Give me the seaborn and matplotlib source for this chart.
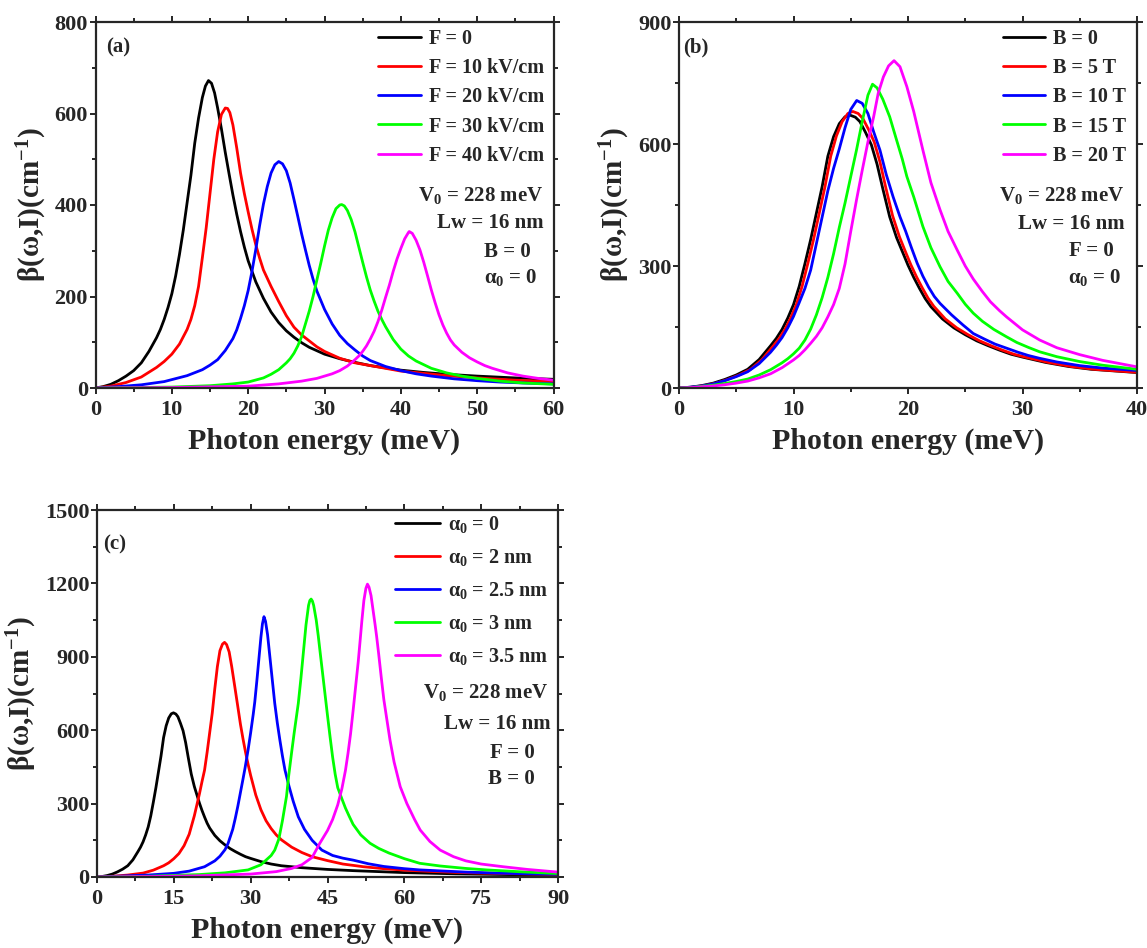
import numpy as np
import pandas as pd
import matplotlib
matplotlib.use("Agg")
import matplotlib.pyplot as plt
import seaborn as sns
from matplotlib.ticker import MultipleLocator

# ---------------- data ----------------
# Panel (a): electric field F
a_labels = ["F = 0", "F = 10 kV/cm", "F = 20 kV/cm", "F = 30 kV/cm", "F = 40 kV/cm"]
a_f0_x = [0, 1, 2, 3, 4, 5, 6, 7, 8, 8.5, 9, 9.5, 10, 10.5, 11, 11.5, 12, 12.5, 13, 13.5, 14, 14.4, 14.8, 15.2, 15.6, 16, 16.5, 17, 17.5, 18, 18.5, 19, 19.5, 20, 21, 22, 23, 24, 25, 26, 27, 28, 30, 32, 34, 36, 38, 40, 43, 46, 50, 55, 60]
a_f0_y = [0, 3, 8, 16, 26, 38, 55, 80, 110, 128, 150, 176, 206, 245, 292, 345, 405, 465, 535, 590, 635, 660, 672, 666, 645, 612, 566, 515, 468, 422, 380, 342, 308, 278, 232, 196, 166, 143, 125, 111, 99, 89, 74, 64, 56, 49, 44, 39, 34, 30, 26, 22, 19]
a_f10_x = [0, 2, 4, 6, 8, 9, 10, 11, 12, 12.5, 13, 13.5, 14, 14.5, 15, 15.5, 16, 16.5, 17, 17.3, 17.6, 18, 18.5, 19, 19.5, 20, 20.5, 21, 21.5, 22, 23, 24, 25, 26, 27, 28, 29, 30, 32, 34, 36, 38, 40, 43, 46, 50, 55, 60]
a_f10_y = [0, 4, 12, 24, 45, 58, 74, 96, 128, 150, 180, 222, 285, 350, 425, 500, 560, 598, 612, 611, 602, 575, 525, 470, 425, 385, 347, 313, 284, 258, 222, 189, 158, 133, 116, 103, 90, 80, 65, 55, 49, 43, 37, 32, 27, 22, 17, 14]
a_f20_x = [0, 3, 6, 9, 12, 14, 15, 16, 17, 18, 18.5, 19, 19.5, 20, 20.5, 21, 21.5, 22, 22.5, 23, 23.5, 24, 24.5, 25, 25.5, 26, 26.5, 27, 27.5, 28, 28.5, 29, 29.5, 30, 31, 32, 33, 34, 35, 36, 38, 40, 42, 44, 47, 50, 53, 56, 60]
a_f20_y = [0, 3, 7, 14, 27, 40, 50, 62, 82, 108, 127, 152, 180, 213, 255, 303, 355, 402, 440, 470, 488, 495, 490, 475, 448, 412, 375, 337, 302, 268, 238, 212, 192, 172, 140, 115, 97, 83, 70, 60, 47, 38, 31, 26, 20, 16, 13, 11, 9]
a_f30_x = [0, 5, 10, 15, 18, 20, 22, 23, 24, 25, 25.5, 26, 26.5, 27, 27.5, 28, 28.5, 29, 29.5, 30, 30.5, 31, 31.5, 32, 32.25, 32.6, 33, 33.5, 34, 34.5, 35, 35.5, 36, 36.5, 37, 37.5, 38, 39, 40, 41, 42, 44, 46, 48, 50, 53, 56, 60]
a_f30_y = [0, 1, 2, 5, 9, 13, 22, 30, 40, 55, 64, 76, 92, 112, 140, 168, 200, 236, 272, 310, 345, 372, 392, 400, 401, 398, 388, 368, 341, 308, 275, 243, 214, 190, 168, 150, 134, 106, 85, 70, 59, 43, 33, 26, 21, 15, 11, 8]
a_f40_x = [0, 10, 20, 24, 27, 29, 31, 32, 33, 34, 34.5, 35, 35.5, 36, 36.5, 37, 37.5, 38, 38.5, 39, 39.5, 40, 40.5, 41, 41.1, 41.5, 42, 42.5, 43, 43.5, 44, 44.5, 45, 45.5, 46, 46.5, 47, 48, 49, 50, 51, 52, 54, 56, 58, 60]
a_f40_y = [0, 1, 4, 9, 15, 21, 31, 38, 48, 62, 70, 80, 92, 107, 124, 145, 170, 198, 225, 255, 282, 305, 326, 340, 342, 338, 323, 302, 275, 245, 214, 186, 160, 138, 120, 105, 94, 78, 66, 57, 49, 43, 33, 26, 21, 17]

# Panel (b): magnetic field B
b_labels = ["B = 0", "B = 5 T", "B = 10 T", "B = 15 T", "B = 20 T"]
b_b0_x = [0, 1, 2, 3, 4, 5, 6, 7, 8, 8.5, 9, 9.5, 10, 10.5, 11, 11.5, 12, 12.5, 13, 13.5, 14, 14.5, 14.93, 15.4, 15.8, 16.3, 16.8, 17.3, 17.8, 18.4, 19, 19.5, 20, 20.5, 21, 21.5, 22, 23, 24, 25, 26, 27, 28, 29, 30, 32, 34, 36, 38, 40]
b_b0_y = [0, 2, 6, 12, 21, 32, 46, 70, 104, 122, 144, 172, 205, 250, 306, 365, 430, 495, 570, 618, 650, 667, 671, 666, 655, 628, 598, 550, 490, 421, 370, 336, 302, 272, 245, 220, 200, 170, 148, 131, 116, 104, 93, 83, 76, 63, 53, 46, 42, 38]
b_b5_x = [0, 1.25, 2.25, 3.25, 4.25, 5.25, 6.25, 7.25, 8.25, 8.75, 9.25, 9.75, 10.25, 10.75, 11.25, 11.75, 12.25, 12.75, 13.25, 13.75, 14.25, 14.75, 15.18, 15.65, 16.05, 16.55, 17.05, 17.55, 18.05, 18.65, 19.25, 19.75, 20.25, 20.75, 21.25, 21.75, 22.25, 23.25, 24.25, 25.25, 26.25, 27.25, 28.25, 29.25, 30.25, 32.25, 34.25, 36.25, 38.25, 40.25]
b_b5_y = [0, 2, 6, 12, 21, 32, 46, 70, 104, 122, 144, 172, 205, 250, 306, 365, 430, 495, 570, 620, 655, 675, 680, 675, 663, 636, 605, 556, 494, 424, 372, 337, 303, 273, 246, 221, 201, 170, 148, 131, 116, 104, 93, 83, 76, 63, 53, 46, 42, 38]
b_b10_x = [0, 1, 2, 3, 4, 5, 6, 7, 8, 8.5, 9, 9.5, 10, 10.5, 11, 11.5, 12, 12.5, 13, 13.5, 14, 14.5, 15, 15.52, 16, 16.5, 17, 17.55, 18.1, 18.7, 19.3, 19.8, 20.3, 20.8, 21.3, 21.8, 22.3, 22.8, 23.8, 24.8, 25.7, 26.7, 27.6, 28.6, 29.6, 30.5, 31.5, 33, 35, 37, 40]
b_b10_y = [0, 2, 5, 10, 18, 28, 40, 60, 88, 105, 124, 148, 176, 210, 245, 290, 355, 420, 485, 540, 588, 640, 685, 707, 700, 675, 630, 585, 525, 470, 421, 385, 345, 307, 275, 248, 225, 208, 180, 155, 134, 120, 108, 98, 88, 80, 73, 64, 55, 49, 43]
b_b15_x = [0, 1, 2, 3, 4, 5, 6, 7, 8, 9, 9.5, 10, 10.5, 11, 11.5, 12, 12.5, 13, 13.5, 14, 14.5, 15, 15.5, 16, 16.5, 16.9, 17.3, 17.8, 18.4, 19, 19.5, 19.9, 20.5, 21.3, 22, 22.8, 23.5, 24.3, 25, 25.7, 26.5, 27.5, 28.6, 29.5, 30.5, 31.5, 33, 35, 37, 40]
b_b15_y = [0, 1, 4, 7, 11, 16, 22, 32, 45, 62, 72, 84, 98, 118, 145, 180, 222, 272, 330, 395, 455, 520, 585, 655, 720, 747, 738, 710, 667, 610, 563, 520, 470, 397, 345, 298, 262, 233, 206, 184, 164, 144, 126, 112, 100, 89, 77, 65, 56, 46]
b_b20_x = [0, 1, 2, 3, 4, 5, 6, 7, 8, 9, 10, 10.5, 11, 11.5, 12, 12.5, 13, 13.5, 14, 14.5, 15, 15.5, 16, 16.5, 17, 17.4, 17.85, 18.3, 18.78, 19.3, 19.9, 20.5, 21.3, 22, 22.8, 23.5, 24.3, 25, 25.7, 26.5, 27.2, 28, 28.6, 30, 31.5, 33, 35, 37, 40]
b_b20_y = [0, 1, 3, 5, 8, 12, 17, 25, 35, 50, 69, 80, 94, 110, 127, 148, 175, 205, 245, 305, 385, 462, 535, 605, 667, 725, 765, 792, 805, 790, 741, 680, 585, 505, 438, 385, 339, 300, 268, 237, 212, 190, 175, 143, 118, 99, 82, 68, 52]

# Panel (c): alpha_0
c_labels = ["α$_0$ = 0", "α$_0$ = 2 nm", "α$_0$ = 2.5 nm", "α$_0$ = 3 nm", "α$_0$ = 3.5 nm"]
c_a0_x = [0, 1, 2, 3, 4, 5, 6, 7, 8, 8.5, 9, 9.5, 10, 10.5, 11, 11.5, 12, 12.5, 13, 13.5, 14, 14.5, 14.93, 15.4, 15.8, 16.3, 16.8, 17.3, 17.8, 18.4, 19, 19.5, 20, 20.5, 21, 21.5, 22, 23, 24, 25, 26, 27, 28, 29, 30, 32, 34, 36, 38, 40, 45, 50, 55, 60, 70, 80, 90]
c_a0_y = [0, 2, 6, 12, 21, 32, 46, 70, 104, 122, 144, 172, 205, 250, 306, 365, 430, 495, 570, 618, 650, 667, 671, 666, 655, 628, 598, 550, 490, 421, 370, 336, 302, 272, 245, 220, 200, 170, 148, 131, 116, 104, 93, 83, 76, 63, 53, 46, 42, 38, 31, 26, 22, 18, 13, 10, 8]
c_a2_x = [0, 3, 6, 9, 11, 13, 14, 15, 16, 17, 18, 19, 20, 20.5, 21, 21.5, 22, 22.5, 23, 23.5, 24, 24.5, 24.9, 25.3, 25.8, 26.3, 26.9, 27.5, 28, 28.5, 29, 29.5, 30, 31, 32, 33, 34, 35, 36, 38, 40, 42, 45, 48, 52, 56, 60, 65, 70, 75, 80, 85, 90]
c_a2_y = [0, 3, 8, 16, 28, 46, 58, 75, 96, 128, 175, 250, 340, 390, 437, 510, 590, 670, 770, 860, 925, 952, 959, 950, 920, 860, 778, 695, 625, 565, 510, 460, 415, 335, 275, 230, 198, 172, 152, 122, 100, 83, 67, 53, 42, 34, 28, 23, 19, 16, 14, 12, 10]
c_a25_x = [0, 5, 10, 15, 18, 21, 23, 24, 25, 25.6, 26.5, 27, 27.5, 28, 28.5, 28.9, 29.5, 30, 30.5, 30.8, 31.2, 31.6, 32, 32.3, 32.6, 32.9, 33.3, 33.7, 34.2, 34.7, 35.2, 35.7, 36.2, 36.7, 37.5, 38.3, 39.3, 40.5, 42, 43.9, 46, 48, 50, 53, 56, 60, 63, 67, 72, 78, 84, 90]
c_a25_y = [0, 4, 8, 15, 24, 42, 66, 85, 112, 138, 195, 240, 290, 345, 400, 445, 520, 590, 665, 715, 800, 890, 980, 1035, 1064, 1045, 990, 910, 810, 710, 630, 560, 495, 437, 370, 310, 246, 195, 150, 110, 88, 77, 69, 54, 43, 34, 29, 25, 20, 16, 13, 11]
c_a3_x = [0, 10, 20, 25, 29.5, 32, 34, 34.7, 35.5, 36.2, 37, 37.4, 38, 38.5, 39, 39.3, 39.8, 40.3, 40.8, 41.3, 41.55, 41.8, 42.05, 42.3, 42.8, 43.2, 43.5, 44, 44.5, 45, 45.5, 46, 46.5, 47, 47.8, 48.5, 49.2, 50, 51.5, 53.3, 55, 57, 60, 63, 67, 72, 76, 83, 90]
c_a3_y = [0, 3, 10, 17, 29, 50, 88, 110, 155, 230, 330, 410, 510, 590, 665, 710, 810, 920, 1030, 1110, 1130, 1136, 1128, 1110, 1050, 985, 930, 840, 750, 660, 573, 490, 420, 365, 320, 282, 250, 215, 172, 138, 117, 98, 75, 56, 45, 35, 29, 21, 14]
c_a35_x = [0, 10, 20, 30, 35, 38, 40, 42, 43.5, 45, 46, 47, 47.8, 48.5, 49, 49.5, 50, 50.5, 51, 51.3, 51.7, 52.1, 52.5, 52.8, 53.1, 53.5, 53.9, 54.3, 54.6, 55, 55.5, 56, 56.6, 57.2, 58, 59.2, 60.5, 62, 63.1, 65, 67, 69.6, 72, 75, 79.3, 84, 90]
c_a35_y = [0, 2, 5, 12, 22, 35, 50, 80, 138, 190, 235, 295, 360, 435, 505, 585, 680, 780, 880, 950, 1045, 1130, 1180, 1197, 1185, 1150, 1090, 1030, 982, 910, 815, 725, 642, 560, 470, 369, 300, 235, 192, 145, 110, 83, 66, 53, 42, 31, 20]

colors = ["#000000", "#FF0000", "#0000FF", "#00FF00", "#FF00FF"]

# ---------------- style ----------------
sns.set_style("ticks")
plt.rcParams["font.family"] = ["Liberation Serif", "DejaVu Serif"]
plt.rcParams["font.weight"] = "bold"
plt.rcParams["axes.labelweight"] = "bold"
plt.rcParams["mathtext.fontset"] = "custom"
plt.rcParams["mathtext.rm"] = "Liberation Serif:bold"
plt.rcParams["mathtext.it"] = "Liberation Serif:bold"
plt.rcParams["mathtext.bf"] = "Liberation Serif:bold"
plt.rcParams["mathtext.default"] = "rm"

fig = plt.figure(figsize=(11.47, 9.48), dpi=100)
W, H = 1147.0, 948.0
ax_a = fig.add_axes([95.5 / W, 1 - 388 / H, 458 / W, 366 / H])
ax_b = fig.add_axes([679 / W, 1 - 388 / H, 458 / W, 366 / H])
ax_c = fig.add_axes([97 / W, 1 - 877 / H, 461 / W, 367 / H])


def to_long(xs, ys, labels):
    frames = []
    for x, y, lab in zip(xs, ys, labels):
        frames.append(pd.DataFrame({"E": x, "beta": y, "series": lab}))
    return pd.concat(frames, ignore_index=True)


def draw(ax, df, labels, xlim, xmaj, ylim, ymaj, tag, notes, leg_anchor,
         leg_spacing, hlen):
    sns.lineplot(data=df, x="E", y="beta", hue="series", hue_order=labels,
                 palette=colors, estimator=None, sort=False, lw=2.0,
                 legend=False, ax=ax)
    for ln in ax.get_lines():
        ln.set_solid_joinstyle("round")
    ax.set_xlim(*xlim)
    ax.set_ylim(*ylim)
    ax.xaxis.set_major_locator(MultipleLocator(xmaj))
    ax.xaxis.set_minor_locator(MultipleLocator(xmaj / 2))
    ax.yaxis.set_major_locator(MultipleLocator(ymaj))
    ax.yaxis.set_minor_locator(MultipleLocator(ymaj / 2))
    for s in ax.spines.values():
        s.set_linewidth(1.6)
        s.set_visible(True)
    ax.tick_params(which="both", direction="out", top=True, right=True,
                   labeltop=False, labelright=False, width=1.4)
    ax.tick_params(which="major", length=4.5)
    ax.tick_params(which="minor", length=3)
    ax.tick_params(axis="y", which="major", pad=1, labelsize=16)
    ax.tick_params(axis="x", which="major", pad=4, labelsize=16)
    for lab in ax.get_xticklabels() + ax.get_yticklabels():
        lab.set_fontweight("bold")
    ax.set_xlabel("Photon energy (meV)", fontsize=21.5, fontweight="bold", labelpad=6)
    ax.set_ylabel("β(ω,I)(cm$^{-1}$)", fontsize=21, fontweight="bold", labelpad=4)
    ax.text(tag[1], tag[2], tag[0], transform=ax.transAxes, fontsize=15,
            fontweight="bold", ha="left", va="center")
    for txt, x, y in notes:
        ax.text(x, y, txt, transform=ax.transAxes, fontsize=15,
                fontweight="bold", ha="right", va="center")
    handles = ax.get_lines()[:len(labels)]
    ax.legend(handles, labels, loc="upper right", bbox_to_anchor=leg_anchor,
              frameon=False, handlelength=hlen, handletextpad=0.4,
              labelspacing=leg_spacing, borderaxespad=0, borderpad=0,
              prop={"weight": "bold", "size": 14.5})


df_a = to_long([a_f0_x, a_f10_x, a_f20_x, a_f30_x, a_f40_x],
               [a_f0_y, a_f10_y, a_f20_y, a_f30_y, a_f40_y], a_labels)
df_b = to_long([b_b0_x, b_b5_x, b_b10_x, b_b15_x, b_b20_x],
               [b_b0_y, b_b5_y, b_b10_y, b_b15_y, b_b20_y], b_labels)
df_c = to_long([c_a0_x, c_a2_x, c_a25_x, c_a3_x, c_a35_x],
               [c_a0_y, c_a2_y, c_a25_y, c_a3_y, c_a35_y], c_labels)

draw(ax_a, df_a, a_labels, (0, 60), 10, (0, 800), 200, ("(a)", 0.023, 0.93),
     [("V$_0$ = 228 meV", 0.979, 0.525), ("Lw = 16 nm", 0.979, 0.452),
      ("B = 0", 0.95, 0.372), ("α$_0$ = 0", 0.965, 0.301)],
     (0.979, 0.98), 0.45, 2.1)
draw(ax_b, df_b, b_labels, (0, 40), 10, (0, 900), 300, ("(b)", 0.01, 0.93),
     [("V$_0$ = 228 meV", 0.973, 0.525), ("Lw = 16 nm", 0.973, 0.449),
      ("F = 0", 0.949, 0.374), ("α$_0$ = 0", 0.966, 0.301)],
     (0.976, 0.98), 0.45, 2.1)
draw(ax_c, df_c, c_labels, (0, 90), 15, (0, 1500), 300, ("(c)", 0.013, 0.905),
     [("V$_0$ = 228 meV", 0.98, 0.504), ("Lw = 16 nm", 0.983, 0.417),
      ("F = 0", 0.95, 0.338), ("B = 0", 0.95, 0.267)],
     (0.98, 0.99), 0.6, 2.25)

fig.savefig("out.png", dpi=100)
